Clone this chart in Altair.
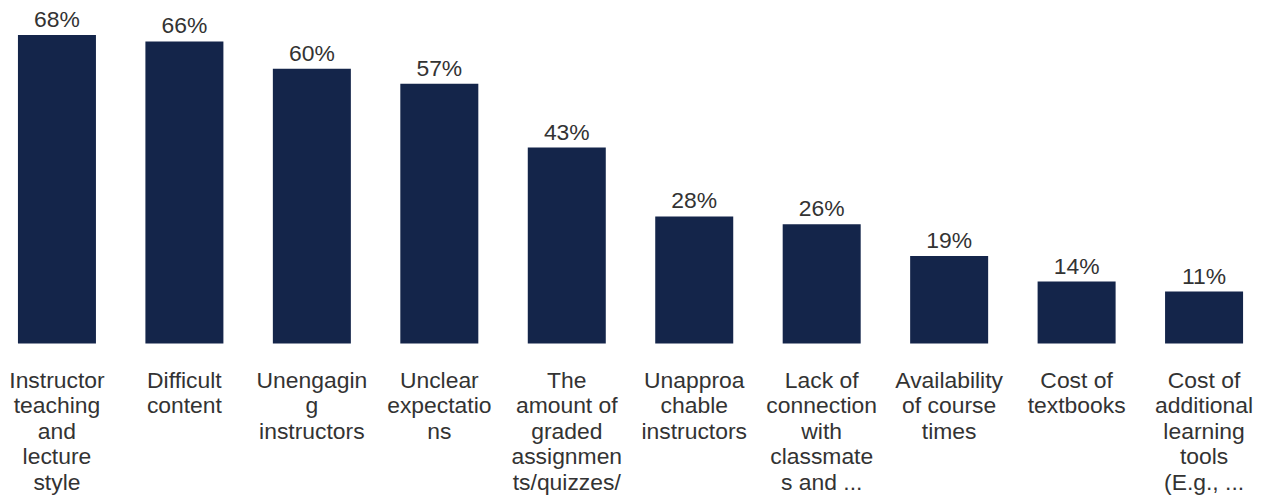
import altair as alt
import pandas as pd

categories = [
    "Instructor\nteaching\nand\nlecture\nstyle",
    "Difficult\ncontent",
    "Unengagin\ng\ninstructors",
    "Unclear\nexpectatio\nns",
    "The\namount of\ngraded\nassignmen\nts/quizzes/",
    "Unapproa\nchable\ninstructors",
    "Lack of\nconnection\nwith\nclassmate\ns and ...",
    "Availability\nof course\ntimes",
    "Cost of\ntextbooks",
    "Cost of\nadditional\nlearning\ntools\n(E.g., ...",
]
values = [67.7, 66.3, 60.3, 57.0, 43.0, 27.9, 26.2, 19.2, 13.6, 11.4]

df = pd.DataFrame({"cat": categories, "val": values})

FONT = "Liberation Sans"
BAR = "#14254A"
TXT = "#333333"

x = alt.X(
    "cat:N",
    sort=categories,
    scale=alt.Scale(paddingInner=0.388, paddingOuter=0.078),
    axis=alt.Axis(
        title=None, labelAngle=0, ticks=False, domain=False,
        labelFont=FONT, labelFontSize=23, labelColor=TXT,
        labelLineHeight=25.6, labelPadding=26, labelLimit=0,
        labelExpr="split(datum.label, '\\n')",
    ),
)
y = alt.Y("val:Q", scale=alt.Scale(domain=[0, 72.5]), axis=None)

bars = alt.Chart(df).mark_bar(color=BAR).encode(x=x, y=y)
labels = (
    alt.Chart(df)
    .transform_calculate(lab="format(datum.val, '.0f') + '%'")
    .mark_text(font=FONT, fontSize=23, color=TXT, baseline="alphabetic", dy=-8)
    .encode(x=x, y=y, text="lab:N")
)

chart = (
    (bars + labels)
    .properties(
        width=1251, height=332,
        autosize=alt.AutoSizeParams(type="none"),
        padding={"top": 4, "left": 0, "right": 2, "bottom": 155},
    )
    .configure_view(strokeWidth=0)
)
chart.save("out.html", embed_options={"renderer": "svg", "actions": False})
